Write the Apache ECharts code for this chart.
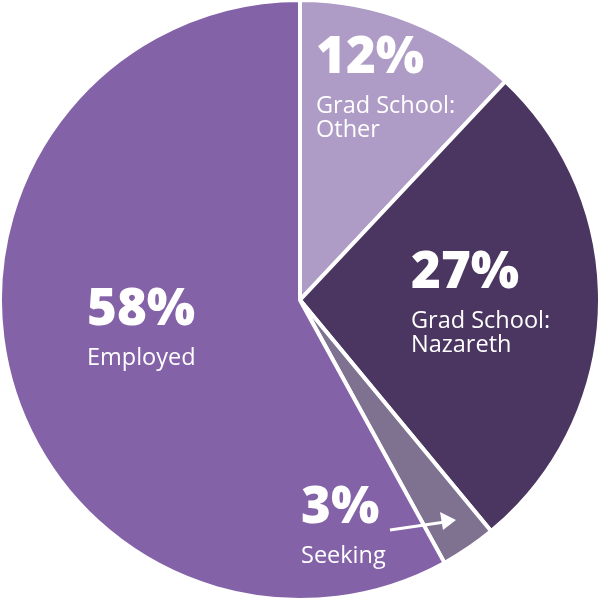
<!DOCTYPE html>
<html><head><meta charset="utf-8">
<script src="https://cdn.jsdelivr.net/npm/echarts@6/dist/echarts.min.js"></script>
<style>html,body{margin:0;padding:0;background:#fff}#c{width:600px;height:600px}</style>
</head><body><div id="c"></div>
<script>
const categories = ["Grad School:\nOther", "Grad School:\nNazareth", "Seeking", "Employed"];
const values = [12, 27, 3, 58];
const colors = ["#AE9CC6", "#4A3660", "#7F7190", "#8462A8"];
const labelSpots = [[316, 22], [411, 237], [301, 472], [87, 274]];

const chart = echarts.init(document.getElementById('c'));
chart.setOption({
  animation: false,
  series: [{
    type: 'pie',
    center: [300, 300],
    radius: [0, 300],
    startAngle: 90,
    clockwise: true,
    silent: true,
    z: 1,
    itemStyle: { borderColor: '#fff', borderWidth: 4 },
    data: categories.map((c, i) => ({ name: c, value: values[i], itemStyle: { color: colors[i] } })),
    label: {
      show: true,
      position: 'inside',
      formatter: p => '{p|' + p.value + '%}\n{n|' + p.name.split('\n').join('}\n{n|') + '}',
      rich: {
        p: { fontFamily: 'Open Sans', fontWeight: 800, fontSize: 51, color: '#fff', lineHeight: 72 },
        n: { fontFamily: 'Open Sans', fontWeight: 400, fontSize: 23.5, color: '#fff', lineHeight: 24 }
      },
      align: 'left'
    },
    labelLine: { show: false },
    labelLayout: p => ({ x: labelSpots[p.dataIndex][0], y: labelSpots[p.dataIndex][1], align: 'left', verticalAlign: 'top' })
  }],
  graphic: [
    { type: 'line', z: 100, shape: { x1: 390, y1: 530, x2: 445, y2: 522 }, style: { stroke: '#fff', lineWidth: 3 } },
    { type: 'polygon', z: 100, shape: { points: [[456, 520], [440, 512], [443, 530]] }, style: { fill: '#fff' } }
  ]
});
</script></body></html>
